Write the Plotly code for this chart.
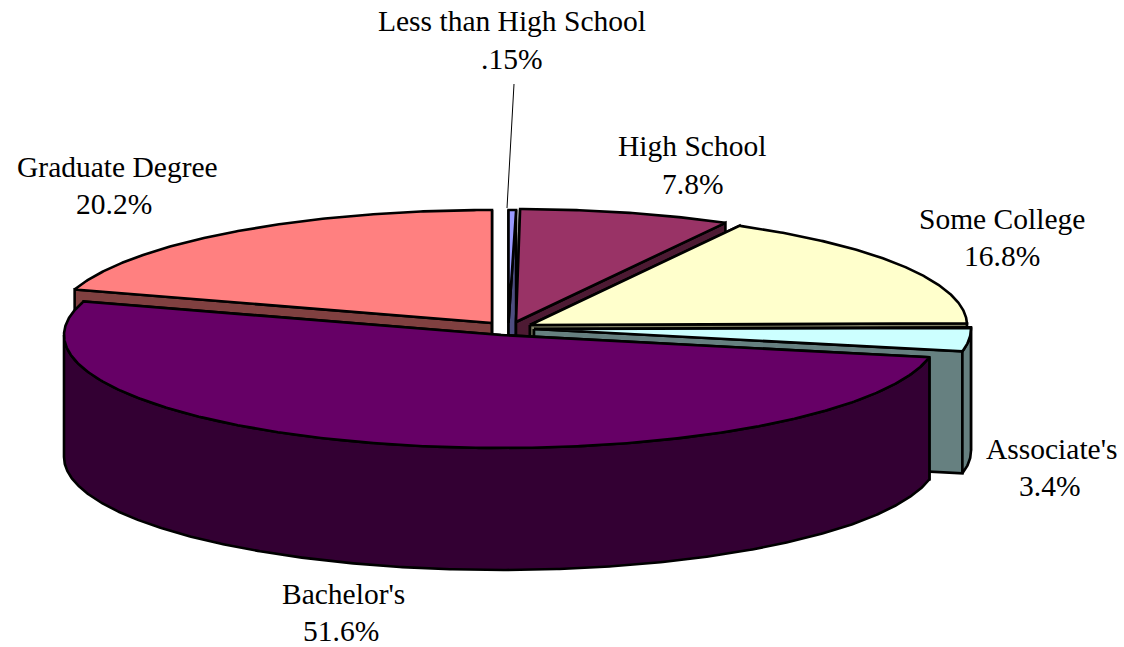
import numpy as np
import plotly.graph_objects as go

# Data, clockwise from 12 o'clock
categories = ["Less than High School", "High School", "Some College", "Associate's", "Bachelor's", "Graduate Degree"]
values = [0.15, 7.8, 16.8, 3.4, 51.6, 20.2]
value_labels = [".15%", "7.8%", "16.8%", "3.4%", "51.6%", "20.2%"]

# Styles
top_colors = ["#9999FF", "#993366", "#FFFFCC", "#CCFFFF", "#660066", "#FF8080"]
side_colors = ["#4D4D80", "#4D1A33", "#808066", "#668080", "#330033", "#804040"]

# Pie geometry (pixel-like axis units)
RX, RY, DEPTH = 437, 113, 122
MIN_SWEEP = 1.0  # a hairline slice is still drawn this many degrees wide
LINE_WIDTH = 2.6
centers_x = [508.5, 516, 530, 534, 501, 492]
centers_y = [323, 322, 325, 329, 335, 323]
draw_order = [5, 0, 1, 2, 3, 4]  # back to front

# Label placement
label_x = [512, 692, 1002, 1051, 343, 117]
label_y = [21, 146, 219, 449, 594, 167]
value_x = [511, 692, 1002, 1049, 341, 114]
value_y = [59, 184, 256, 486, 631, 204]

fig = go.Figure()


def poly(xs, ys, fill):
    fig.add_trace(go.Scatter(
        x=list(xs), y=list(ys), mode="lines", fill="toself", fillcolor=fill,
        line=dict(color="black", width=LINE_WIDTH), hoverinfo="skip", showlegend=False))


def rim(cx, cy, a0, a1, dy=0.0):
    t = np.radians(np.linspace(a0, a1, max(int(abs(a1 - a0) * 3), 2)))
    return cx + RX * np.sin(t), cy - RY * np.cos(t) + dy


total = sum(values)
edges = np.r_[0, np.cumsum(values)] / total * 360

for i in draw_order:
    a0, a1 = edges[i], max(edges[i + 1], edges[i] + MIN_SWEEP)
    cx, cy = centers_x[i], centers_y[i]
    # cut faces
    for a in (a0, a1):
        ex, ey = rim(cx, cy, a, a + 1e-6)
        poly([cx, ex[0], ex[0], cx, cx], [cy, ey[0], ey[0] + DEPTH, cy + DEPTH, cy], side_colors[i])
    # outer wall (front part only)
    if a1 > 90 and a0 < 270:
        w0, w1 = a0, min(a1, 270)
        tx, ty = rim(cx, cy, w0, w1)
        bx, by = rim(cx, cy, w0, w1, DEPTH)
        poly(np.r_[tx, bx[::-1], tx[0]], np.r_[ty, by[::-1], ty[0]], side_colors[i])
    # top face
    tx, ty = rim(cx, cy, a0, a1)
    poly(np.r_[cx, tx, cx], np.r_[cy, ty, cy], top_colors[i])

font = dict(family="Liberation Serif", size=29.5, color="black")
annotations = []
for name, val, lx, ly, vx, vy in zip(categories, value_labels, label_x, label_y, value_x, value_y):
    annotations.append(dict(x=lx, y=ly, text=name, showarrow=False, font=font, xanchor="center", yanchor="middle"))
    annotations.append(dict(x=vx, y=vy, text=val, showarrow=False, font=font, xanchor="center", yanchor="middle"))

fig.update_layout(
    width=1124, height=647, margin=dict(l=0, r=0, t=0, b=0),
    paper_bgcolor="white", plot_bgcolor="white",
    xaxis=dict(range=[0, 1124], visible=False, fixedrange=True),
    yaxis=dict(range=[647, 0], visible=False, fixedrange=True),
    annotations=annotations,
    shapes=[dict(type="line", x0=514, y0=84, x1=507, y1=208, line=dict(color="black", width=1))],
)
fig.write_html("out.html", config=dict(displayModeBar=False),
               post_script="document.body.style.margin='0';")
